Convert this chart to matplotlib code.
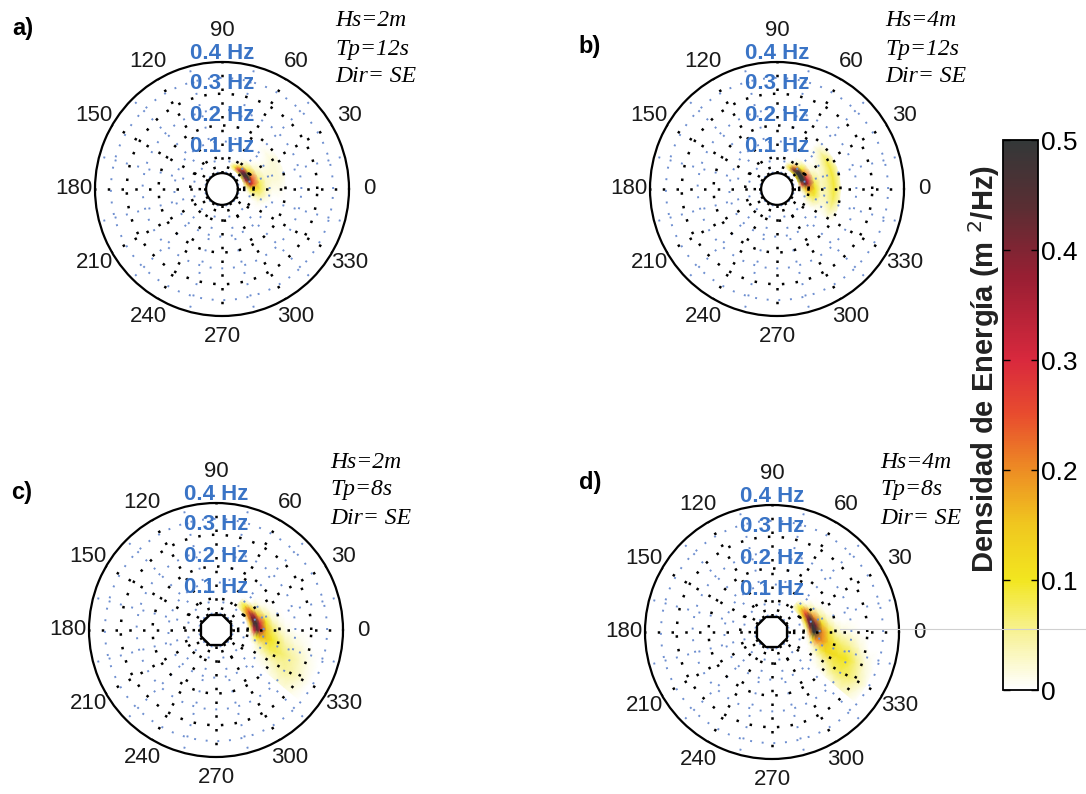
import numpy as np
import matplotlib
matplotlib.use("Agg")
import matplotlib.pyplot as plt
from matplotlib.colors import LinearSegmentedColormap
from matplotlib.lines import Line2D

# ---------------- data ----------------
panel_letters = ["a)", "b)", "c)", "d)"]
hs_labels = ["Hs=2m", "Hs=4m", "Hs=2m", "Hs=4m"]
tp_labels = ["Tp=12s", "Tp=12s", "Tp=8s", "Tp=8s"]
dir_labels = ["Dir= SE", "Dir= SE", "Dir= SE", "Dir= SE"]
hole_shapes = ["circle", "circle", "octagon", "octagon"]

angle_ticks = [0, 30, 60, 90, 120, 150, 180, 210, 240, 270, 300, 330]
angle_tick_labels = ["0", "30", "60", "90", "120", "150", "180", "210", "240", "270", "300", "330"]
freq_rings = [0.1, 0.2, 0.3, 0.4]
freq_ring_labels = ["0.1 Hz", "0.2 Hz", "0.3 Hz", "0.4 Hz"]
cbar_ticks = [0, 0.1, 0.2, 0.3, 0.4, 0.5]
cbar_tick_labels = ["0", "0.1", "0.2", "0.3", "0.4", "0.5"]

# Tp = 12 s spectra (panels a, b): rows = frequencies (Hz), cols = directions (deg)
dirs_12 = [-30, -20, -10, 0, 10, 20, 30, 40, 50, 60, 70]
freqs_12 = [0.07, 0.08, 0.09, 0.10, 0.12, 0.14, 0.16, 0.18, 0.20]
energy_a = [
    [0, 0, 0, 0, 0.02, 0.05, 0.08, 0.08, 0.06, 0.03, 0],
    [0, 0, 0, 0.03, 0.15, 0.35, 0.45, 0.45, 0.30, 0.10, 0.02],
    [0, 0, 0.02, 0.10, 0.35, 0.50, 0.50, 0.35, 0.15, 0.04, 0],
    [0, 0, 0.04, 0.12, 0.25, 0.25, 0.15, 0.08, 0.03, 0, 0],
    [0, 0.01, 0.05, 0.08, 0.08, 0.05, 0.03, 0.01, 0, 0, 0],
    [0, 0, 0.02, 0.03, 0.03, 0.02, 0.01, 0, 0, 0, 0],
    [0, 0, 0, 0.01, 0.02, 0.02, 0.01, 0, 0, 0, 0],
    [0, 0, 0, 0.01, 0.02, 0.02, 0.02, 0.01, 0, 0, 0],
    [0, 0, 0, 0, 0.01, 0.01, 0.01, 0, 0, 0, 0],
]
energy_b = [
    [0, 0, 0, 0, 0.03, 0.08, 0.12, 0.12, 0.08, 0.04, 0],
    [0, 0, 0, 0.05, 0.25, 0.50, 0.50, 0.50, 0.40, 0.12, 0.02],
    [0, 0, 0.03, 0.15, 0.45, 0.50, 0.50, 0.45, 0.20, 0.05, 0],
    [0, 0.02, 0.08, 0.20, 0.35, 0.30, 0.20, 0.10, 0.04, 0, 0],
    [0, 0.04, 0.09, 0.10, 0.08, 0.05, 0.02, 0.01, 0, 0, 0],
    [0, 0.02, 0.03, 0.03, 0.03, 0.02, 0.01, 0, 0, 0, 0],
    [0, 0.02, 0.04, 0.05, 0.05, 0.04, 0.03, 0.01, 0, 0, 0],
    [0.01, 0.05, 0.08, 0.09, 0.09, 0.09, 0.08, 0.04, 0, 0, 0],
    [0, 0.02, 0.03, 0.03, 0.03, 0.03, 0.02, 0.01, 0, 0, 0],
]

# Tp = 8 s spectra (panels c, d)
dirs_8 = [-40, -30, -20, -10, 0, 10, 20, 30, 40, 50]
freqs_8 = [0.10, 0.11, 0.12, 0.13, 0.14, 0.16, 0.18, 0.20, 0.22, 0.25, 0.28, 0.31, 0.34]
energy_c = [
    [0, 0, 0, 0, 0, 0.01, 0.03, 0.05, 0.04, 0.01],
    [0, 0, 0, 0, 0.05, 0.15, 0.20, 0.18, 0.08, 0.02],
    [0, 0, 0, 0.05, 0.30, 0.45, 0.40, 0.25, 0.10, 0.02],
    [0, 0, 0.01, 0.10, 0.45, 0.50, 0.35, 0.15, 0.04, 0],
    [0, 0, 0.03, 0.15, 0.35, 0.30, 0.15, 0.05, 0, 0],
    [0, 0.01, 0.06, 0.15, 0.15, 0.10, 0.04, 0.01, 0, 0],
    [0, 0.02, 0.08, 0.10, 0.07, 0.03, 0.01, 0, 0, 0],
    [0, 0.03, 0.08, 0.07, 0.03, 0.01, 0, 0, 0, 0],
    [0.01, 0.04, 0.07, 0.04, 0.01, 0, 0, 0, 0, 0],
    [0.02, 0.05, 0.05, 0.02, 0, 0, 0, 0, 0, 0],
    [0.02, 0.04, 0.03, 0.01, 0, 0, 0, 0, 0, 0],
    [0.01, 0.02, 0.01, 0, 0, 0, 0, 0, 0, 0],
    [0, 0, 0, 0, 0, 0, 0, 0, 0, 0],
]
energy_d = [
    [0, 0, 0, 0, 0, 0.01, 0.02, 0.04, 0.03, 0.01],
    [0, 0, 0, 0, 0.02, 0.08, 0.15, 0.15, 0.08, 0.02],
    [0, 0, 0, 0.03, 0.20, 0.40, 0.40, 0.25, 0.10, 0.02],
    [0, 0, 0.01, 0.12, 0.50, 0.50, 0.45, 0.20, 0.05, 0],
    [0, 0, 0.03, 0.20, 0.50, 0.40, 0.20, 0.06, 0.01, 0],
    [0, 0.01, 0.08, 0.20, 0.20, 0.12, 0.05, 0.01, 0, 0],
    [0, 0.03, 0.12, 0.14, 0.09, 0.04, 0.01, 0, 0, 0],
    [0, 0.05, 0.12, 0.09, 0.04, 0.01, 0, 0, 0, 0],
    [0.01, 0.07, 0.11, 0.07, 0.02, 0, 0, 0, 0, 0],
    [0.02, 0.08, 0.10, 0.05, 0.01, 0, 0, 0, 0, 0],
    [0.03, 0.07, 0.06, 0.02, 0, 0, 0, 0, 0, 0],
    [0.02, 0.04, 0.02, 0, 0, 0, 0, 0, 0, 0],
    [0, 0.01, 0, 0, 0, 0, 0, 0, 0, 0],
]

spectra = [
    (dirs_12, freqs_12, energy_a),
    (dirs_12, freqs_12, energy_b),
    (dirs_8, freqs_8, energy_c),
    (dirs_8, freqs_8, energy_d),
]

# ---------------- style ----------------
W, H = 1086, 794
fig = plt.figure(figsize=(W / 100, H / 100), dpi=100)
fig.patch.set_facecolor("white")

cmap = LinearSegmentedColormap.from_list(
    "energy",
    [(0.00, (1.00, 1.00, 1.00)),
     (0.10, (0.97, 0.95, 0.60)),
     (0.20, (0.95, 0.90, 0.12)),
     (0.30, (0.94, 0.78, 0.12)),
     (0.40, (0.93, 0.55, 0.14)),
     (0.50, (0.91, 0.30, 0.18)),
     (0.60, (0.85, 0.16, 0.24)),
     (0.75, (0.60, 0.12, 0.20)),
     (0.88, (0.35, 0.18, 0.20)),
     (1.00, (0.20, 0.22, 0.22))])

BLUE = "#3a74c6"
GRID_BLUE = "#6e8fd0"
R_MIN, R_MAX = 0.05, 0.4
R_PX = 127

centers = [(222, 189), (777, 189), (216, 630), (772, 632)]
letter_pos = [(23, 28), (590, 47), (22, 493), (590, 482)]
text_pos = [(335, 21), (885, 21), (330, 462), (880, 462)]

def px(x, y):
    return x / W, 1 - y / H

mesh = None
for i in range(4):
    cx, cy = centers[i]
    ax = fig.add_axes([(cx - R_PX) / W, 1 - (cy + R_PX) / H, 2 * R_PX / W, 2 * R_PX / H],
                      projection="polar")
    ax.set_rorigin(0)
    ax.set_rlim(R_MIN, R_MAX)
    ax.set_facecolor("white")

    d, f, e = spectra[i]
    T, F = np.meshgrid(np.deg2rad(d), f)
    mesh = ax.pcolormesh(T, F, np.array(e), shading="gouraud", cmap=cmap,
                         vmin=0, vmax=0.5, zorder=1)

    ax.set_xticks(np.deg2rad(angle_ticks))
    ax.set_xticks(np.deg2rad(np.array(angle_ticks) + 15), minor=True)
    ax.set_yticks([0.07, 0.1, 0.2, 0.3])
    ax.set_yticks([0.15, 0.25, 0.35], minor=True)
    ax.set_xticklabels([])
    ax.set_yticklabels([])
    ax.tick_params(which="both", length=0)
    ax.grid(which="major", color="black", linestyle=(0, (1, 4.5)), linewidth=1.8, zorder=2)
    ax.grid(which="minor", color=GRID_BLUE, linestyle=(0, (1, 5)), linewidth=1.4, zorder=2)

    ax.spines["polar"].set_linewidth(1.6)
    ax.spines["polar"].set_color("black")
    if hole_shapes[i] == "circle":
        ax.spines["inner"].set_linewidth(1.6)
        ax.spines["inner"].set_color("black")
    else:
        ax.spines["inner"].set_visible(False)
        oct_t = np.deg2rad(np.arange(22.5, 22.5 + 361, 45))
        ax.plot(oct_t, np.full(oct_t.shape, R_MIN * 1.02), color="black", lw=1.6,
                clip_on=False, zorder=4)

    for a, lab in zip(angle_ticks, angle_tick_labels):
        rr = 0.50 if a == 90 else 0.465
        ax.text(np.deg2rad(a), rr, lab, ha="center", va="center", fontsize=16,
                family="Liberation Sans", color="#1a1a1a", clip_on=False)
    for fr, lab in zip(freq_rings, freq_ring_labels):
        off = 0.027 if fr == 0.4 else 0.033
        ax.text(np.pi / 2, fr + off, lab, ha="center", va="center", fontsize=16,
                fontweight="bold", family="Liberation Sans", color=BLUE, clip_on=False,
                zorder=5)

    lx, ly = letter_pos[i]
    fig.text(*px(lx, ly), panel_letters[i], ha="center", va="center", fontsize=17,
             fontweight="bold", family="Liberation Sans")
    tx, ty = text_pos[i]
    for k, s in enumerate([hs_labels[i], tp_labels[i], dir_labels[i]]):
        fig.text(*px(tx, ty + 28 * k), s, ha="left", va="center", fontsize=17,
                 style="italic", family="Liberation Serif")

# colorbar
cax = fig.add_axes([1003 / W, 1 - 690 / H, 35 / W, 550 / H])
cb = fig.colorbar(mesh, cax=cax, ticks=cbar_ticks)
cb.ax.set_yticklabels(cbar_tick_labels, fontsize=19, family="Liberation Sans")
cb.outline.set_linewidth(1.3)
cb.ax.tick_params(direction="in", left=True, right=True, length=5, width=1, pad=2)
fig.text(*px(984, 369), "Densidad de Energía (m $^2$/Hz)", rotation=90, ha="center",
         va="center", fontsize=21, fontweight="bold", family="Liberation Sans",
         color="#222222")

# faint scan line
fig.add_artist(Line2D([840 / W, 1.0], [1 - 629 / H, 1 - 629 / H], color="#d0d0d0", lw=0.8))

fig.savefig("out.png", dpi=100, facecolor="white")
